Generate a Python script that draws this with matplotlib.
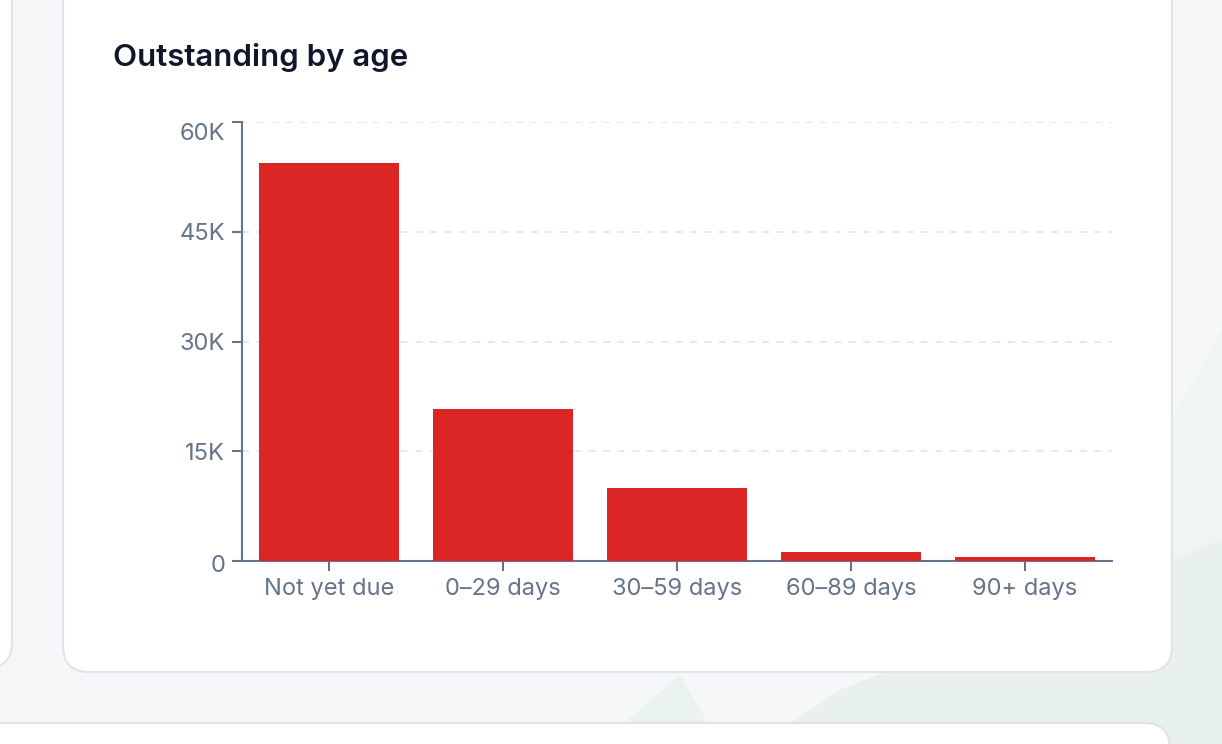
import numpy as np
import matplotlib
matplotlib.use("Agg")
import matplotlib.pyplot as plt
from matplotlib.patches import FancyBboxPatch, Polygon
from matplotlib.transforms import IdentityTransform, ScaledTranslation
from matplotlib.ticker import FuncFormatter

categories = ["Not yet due", "0\u201329 days", "30\u201359 days", "60\u201389 days", "90+ days"]
outstanding = [54400, 20800, 10000, 1230, 550]
y_ticks = [0, 15000, 30000, 45000, 60000]

W, H = 1222, 744
plt.rcParams['font.family'] = ['Inter', 'DejaVu Sans']

fig = plt.figure(figsize=(W / 100, H / 100), dpi=100)
fig.patch.set_facecolor("#f5f7f9")

px = IdentityTransform()


def flip(pts):
    return [(x, H - y) for x, y in pts]


# faint background shapes
for pts, col in [
    ([(1172, 420), (1222, 330), (1222, 744), (1172, 744)], "#f0f5f2"),
    ([(840, 690), (1222, 540), (1222, 744), (760, 744)], "#e8f1ec"),
    ([(600, 744), (680, 675), (720, 744)], "#ebf3ef"),
]:
    fig.patches.append(Polygon(flip(pts), closed=True, transform=px,
                               facecolor=col, edgecolor="none", zorder=0))


def card(x0, y0, x1, y1, r=26):
    p = FancyBboxPatch((x0, H - y1), x1 - x0, y1 - y0,
                       boxstyle="round,pad=0,rounding_size=%d" % r,
                       transform=px, facecolor="white", edgecolor="#dfe4ec",
                       linewidth=1.5, zorder=1)
    fig.patches.append(p)


card(-60, -40, 12, 668)
card(63, -30, 1172, 672)
card(-60, 723, 1170, 800)

fig.text(113 / W, 1 - 58 / H, "Outstanding by age", fontsize=22.5, fontweight="semibold",
         color="#0f172a", va="center", ha="left")

ax = fig.add_axes([242 / W, 1 - 561 / H, (1112 - 242) / W, (561 - 122) / H])
ax.set_facecolor("none")
ax.set_zorder(2)

x = np.arange(len(categories))
ax.bar(x, outstanding, width=0.8, color="#dc2626", zorder=3)

ax.set_xlim(-0.5, len(categories) - 0.5)
ax.set_ylim(0, 60000)
ax.set_xticks(x)
ax.set_xticklabels(categories)
ax.set_yticks(y_ticks)
ax.yaxis.set_major_formatter(FuncFormatter(lambda v, p: "0" if v == 0 else "%dK" % (v / 1000)))

for s in ["top", "right"]:
    ax.spines[s].set_visible(False)
for s in ["left", "bottom"]:
    ax.spines[s].set_color("#64748b")
    ax.spines[s].set_linewidth(1.5)

ax.tick_params(axis="both", colors="#64748b", labelsize=17, length=7, width=1.5, pad=5)

ax.grid(axis="y", color="#e2e8f0", linestyle=(0, (4, 4)), linewidth=1.3, zorder=0)
ax.set_axisbelow(True)

# top label sits a little below its tick, bottom one slightly lower
fig.canvas.draw()
ylabels = ax.get_yticklabels()
ylabels[-1].set_transform(ylabels[-1].get_transform() + ScaledTranslation(0, -9 / 100, fig.dpi_scale_trans))
ylabels[0].set_transform(ylabels[0].get_transform() + ScaledTranslation(0, -3 / 100, fig.dpi_scale_trans))

fig.savefig("out.png", dpi=100, facecolor=fig.get_facecolor())
